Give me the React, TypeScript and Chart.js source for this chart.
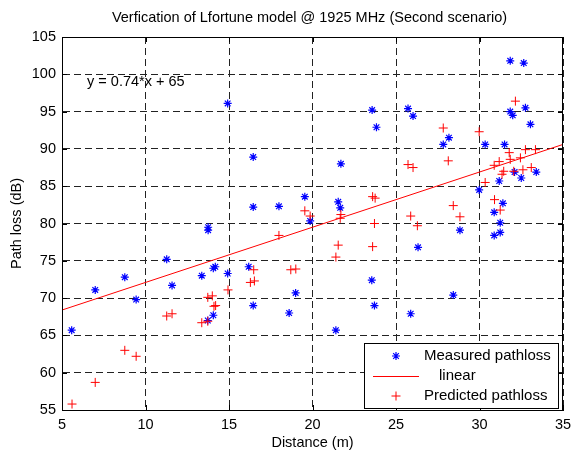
import React, { useEffect, useRef } from "react";
import { Chart, registerables } from "chart.js";

Chart.register(...registerables);

const titleText = "Verfication of Lfortune model @ 1925 MHz (Second scenario)";
const xAxisLabel = "Distance (m)";
const yAxisLabel = "Path loss (dB)";
const fitLabel = "y = 0.74*x + 65";
const legendLabels = ["Measured pathloss", "linear", "Predicted pathloss"];

const measuredDistance = [
  5.58, 6.99, 8.76, 9.44, 11.27, 11.59, 13.37, 13.75, 13.75, 14.06, 14.18, 14.06, 13.73, 14.92, 14.92,
  16.45, 16.45, 16.18, 16.45, 17.99, 18.6, 18.99, 19.54, 19.86, 21.4, 21.54, 21.66, 21.7, 23.55, 23.71,
  23.57, 23.83, 25.72, 26.02, 25.88, 26.32, 27.83, 28.17, 28.43, 28.83, 29.98, 30.34, 30.88, 30.88,
  31.24, 31.24, 31.4, 31.18, 31.5, 31.84, 32.65, 31.84, 31.99, 32.75, 33.05, 32.1, 32.5, 33.4,
];
const measuredLoss = [
  65.7, 71.1, 72.8, 69.8, 75.2, 71.7, 73.0, 79.5, 79.1, 74.0, 74.2, 67.7, 67.0, 73.3, 96.1,
  88.9, 82.2, 74.2, 69.0, 82.3, 68.0, 70.7, 83.6, 80.35, 65.7, 82.9, 82.1, 88.0, 72.4, 69.0,
  95.2, 92.9, 95.4, 94.4, 67.9, 76.8, 90.6, 91.5, 70.4, 79.1, 84.5, 90.6, 81.5, 78.4,
  78.8, 80.1, 82.7, 85.7, 90.6, 101.8, 101.5, 95.0, 94.5, 95.5, 93.3, 86.9, 86.1, 86.9,
];

const predictedDistance = [
  5.6, 6.99, 8.76, 9.44, 11.27, 11.59, 13.37, 13.73, 13.73, 14.0, 14.1, 14.2, 14.94, 16.48, 16.28,
  16.52, 17.99, 18.7, 19.0, 19.54, 19.86, 21.54, 21.4, 21.7, 21.66, 23.6, 23.75, 23.71, 23.6, 25.72,
  26.02, 25.88, 26.28, 27.83, 28.13, 28.43, 28.83, 29.98, 30.34, 30.9, 31.24, 30.88, 31.18, 31.45,
  31.35, 31.78, 31.84, 32.05, 32.15, 32.6, 32.75, 33.1, 33.35, 32.45,
];
const predictedLoss = [
  55.8, 58.7, 63.0, 62.2, 67.6, 67.9, 66.7, 66.9, 70.1, 70.3, 68.9, 69.0, 71.1, 73.8, 72.1,
  72.3, 78.4, 73.8, 73.9, 81.7, 81.0, 77.1, 75.5, 81.2, 80.7, 83.6, 83.4, 80.0, 76.9, 87.9,
  87.5, 81.0, 79.7, 92.8, 88.4, 82.4, 80.9, 92.3, 85.5, 83.2, 81.8, 87.8, 88.3, 87.0,
  86.6, 89.5, 88.6, 87.0, 96.4, 87.2, 89.9, 87.5, 89.9, 88.8,
];

const fitDistance = [5, 35];
const fitLoss = [68.4, 90.6];

const xTicks = [5, 10, 15, 20, 25, 30, 35];
const yTicks = [55, 60, 65, 70, 75, 80, 85, 90, 95, 100, 105];

const FONT = "'Liberation Sans', Arial, Helvetica, sans-serif";

function drawStar(ctx: CanvasRenderingContext2D, x: number, y: number, r: number) {
  ctx.beginPath();
  ctx.moveTo(x - r, y);
  ctx.lineTo(x + r, y);
  ctx.moveTo(x, y - r);
  ctx.lineTo(x, y + r);
  const d = r * Math.SQRT1_2;
  ctx.moveTo(x - d, y - d);
  ctx.lineTo(x + d, y + d);
  ctx.moveTo(x - d, y + d);
  ctx.lineTo(x + d, y - d);
  ctx.stroke();
}

function drawCross(ctx: CanvasRenderingContext2D, x: number, y: number, r: number) {
  ctx.beginPath();
  ctx.moveTo(x - r, y);
  ctx.lineTo(x + r, y);
  ctx.moveTo(x, y - r);
  ctx.lineTo(x, y + r);
  ctx.stroke();
}

const decorPlugin = {
  id: "decor",
  afterDraw(chart: any) {
    const { ctx, chartArea, scales } = chart;
    const { left, right, top, bottom } = chartArea;
    ctx.save();
    ctx.strokeStyle = "#000";
    ctx.lineWidth = 1;
    ctx.setLineDash([]);
    ctx.strokeRect(Math.round(left) + 0.5, Math.round(top) + 0.5, Math.round(right - left) - 1, Math.round(bottom - top));
    ctx.beginPath();
    xTicks.forEach((v) => {
      const px = Math.round(scales.x.getPixelForValue(v)) + 0.5;
      ctx.moveTo(px, bottom);
      ctx.lineTo(px, bottom - 5);
      ctx.moveTo(px, top);
      ctx.lineTo(px, top + 5);
    });
    yTicks.forEach((v) => {
      const py = Math.round(scales.y.getPixelForValue(v)) + 0.5;
      ctx.moveTo(left, py);
      ctx.lineTo(left + 5, py);
      ctx.moveTo(right, py);
      ctx.lineTo(right - 5, py);
    });
    ctx.stroke();

    ctx.fillStyle = "#000";
    ctx.font = `14.5px ${FONT}`;
    ctx.textAlign = "center";
    ctx.textBaseline = "middle";
    ctx.fillText(titleText, (left + right) / 2 - 3, 18);
    ctx.fillText(xAxisLabel, (left + right) / 2, 443);
    ctx.save();
    ctx.translate(17, (top + bottom) / 2);
    ctx.rotate(-Math.PI / 2);
    ctx.fillText(yAxisLabel, 0, 0);
    ctx.restore();

    ctx.textAlign = "left";
    ctx.fillText(fitLabel, scales.x.getPixelForValue(6.5), scales.y.getPixelForValue(99));

    const lw = 194;
    const lh = 65;
    const lx = Math.round(right - 5 - lw);
    const ly = Math.round(bottom - 2 - lh);
    ctx.fillStyle = "#fff";
    ctx.fillRect(lx, ly, lw, lh);
    ctx.strokeStyle = "#000";
    ctx.lineWidth = 1;
    ctx.strokeRect(lx + 0.5, ly + 0.5, lw, lh);
    const rows = [ly + 13, ly + 33, ly + 53];
    ctx.fillStyle = "#000";
    ctx.font = `15px ${FONT}`;
    ctx.textBaseline = "middle";
    ctx.textAlign = "left";
    ctx.strokeStyle = "#0000ff";
    ctx.lineWidth = 1.2;
    drawStar(ctx, lx + 32, rows[0], 4);
    ctx.fillText(legendLabels[0], lx + 60, rows[0]);
    ctx.strokeStyle = "#ff0000";
    ctx.lineWidth = 1;
    ctx.beginPath();
    ctx.moveTo(lx + 9, rows[1] + 0.5);
    ctx.lineTo(lx + 55, rows[1] + 0.5);
    ctx.stroke();
    ctx.fillText(legendLabels[1], lx + 75, rows[1]);
    drawCross(ctx, lx + 32, rows[2], 4.5);
    ctx.fillText(legendLabels[2], lx + 60, rows[2]);
    ctx.restore();
  },
};

export default function App() {
  const canvasRef = useRef<HTMLCanvasElement | null>(null);

  useEffect(() => {
    if (!canvasRef.current) return;
    const measured = measuredDistance.map((d, i) => ({ x: d, y: measuredLoss[i] }));
    const predicted = predictedDistance.map((d, i) => ({ x: d, y: predictedLoss[i] }));
    const fit = fitDistance.map((d, i) => ({ x: d, y: fitLoss[i] }));

    const chart = new Chart(canvasRef.current, {
      type: "scatter",
      data: {
        datasets: [
          {
            label: legendLabels[2],
            data: predicted,
            pointStyle: "cross",
            pointRadius: 4.5,
            pointBorderWidth: 1,
            borderColor: "#ff0000",
            backgroundColor: "#ff0000",
          },
          {
            type: "line",
            label: legendLabels[1],
            data: fit,
            borderColor: "#ff0000",
            borderWidth: 1,
            pointRadius: 0,
            fill: false,
          } as any,
          {
            label: legendLabels[0],
            data: measured,
            pointStyle: "star",
            pointRadius: 4,
            pointBorderWidth: 1.2,
            borderColor: "#0000ff",
            backgroundColor: "#0000ff",
          },
        ],
      },
      options: {
        responsive: false,
        animation: false,
        layout: { padding: { top: 37, right: 9, left: 0, bottom: 0 } },
        plugins: {
          legend: { display: false },
          title: { display: false },
          tooltip: { enabled: false },
        },
        scales: {
          x: {
            type: "linear",
            min: 5,
            max: 35,
            afterFit: (s: any) => {
              s.height = 41;
              s.paddingLeft = 0;
              s.paddingRight = 0;
            },
            afterBuildTicks: (s: any) => {
              s.ticks = xTicks.map((v) => ({ value: v }));
            },
            ticks: {
              padding: 6,
              color: "#000",
              font: { family: FONT, size: 14.5 },
              maxRotation: 0,
            },
            grid: { color: "#222", lineWidth: 1, drawTicks: false },
            border: { display: true, color: "#000", dash: [7, 4] },
          },
          y: {
            type: "linear",
            min: 55,
            max: 105,
            afterFit: (s: any) => {
              s.width = 62;
              s.paddingTop = 0;
              s.paddingBottom = 0;
            },
            afterBuildTicks: (s: any) => {
              s.ticks = yTicks.map((v) => ({ value: v }));
            },
            ticks: {
              padding: 6,
              color: "#000",
              font: { family: FONT, size: 14.5 },
            },
            grid: { color: "#222", lineWidth: 1, drawTicks: false },
            border: { display: true, color: "#000", dash: [7, 4] },
          },
        },
      },
      plugins: [decorPlugin],
    });
    return () => chart.destroy();
  }, []);

  return (
    <div style={{ position: "fixed", left: 0, top: 0, width: 572, height: 451, background: "#fff" }}>
      <canvas ref={canvasRef} width={572} height={451} />
    </div>
  );
}
